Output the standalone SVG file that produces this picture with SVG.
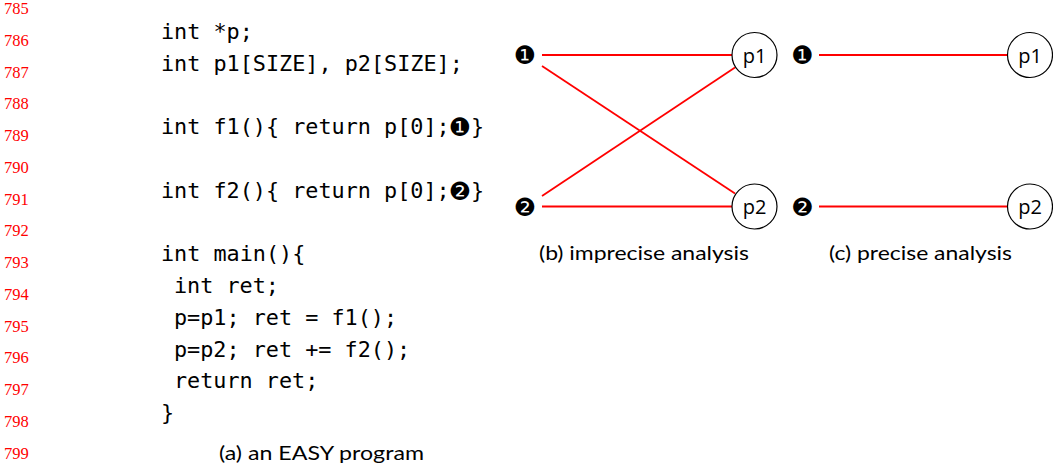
<svg xmlns="http://www.w3.org/2000/svg" width="1053" height="471" viewBox="0 0 1053 471">
<style>
.ln{font-family:"Liberation Serif",serif;font-size:16.5px;fill:#ff0000}
.code{font-family:"DejaVu Sans Mono",monospace;font-size:21.8px;fill:#000}
.cap{font-family:Lato,"Open Sans",sans-serif;font-size:20px;fill:#000}
.dot{font-family:"DejaVu Sans",sans-serif;font-size:25px;fill:#000;text-anchor:middle}
.nd{fill:#fff;stroke:#000;stroke-width:1.2}
.nt{font-family:"Open Sans",sans-serif;font-size:20px;fill:#000;text-anchor:middle}
.e{stroke:#ff0000;stroke-width:1.8;fill:none}
</style>
<rect width="1053" height="471" fill="#fff"/>
<g id="line-numbers" class="ln">
<text x="4" y="14">785</text>
<text x="4" y="45.75">786</text>
<text x="4" y="77.5">787</text>
<text x="4" y="109.25">788</text>
<text x="4" y="141">789</text>
<text x="4" y="172.75">790</text>
<text x="4" y="204.5">791</text>
<text x="4" y="236.25">792</text>
<text x="4" y="268">793</text>
<text x="4" y="299.75">794</text>
<text x="4" y="331.5">795</text>
<text x="4" y="363.25">796</text>
<text x="4" y="395">797</text>
<text x="4" y="426.75">798</text>
<text x="4" y="458.5">799</text>
</g>
<g id="code" class="code">
<text x="161" y="39">int *p;</text>
<text x="161" y="70.75">int p1[SIZE], p2[SIZE];</text>
<text x="161" y="134.25">int f1(){ return p[0];</text>
<text x="471" y="134.25">}</text>
<text x="161" y="197.75">int f2(){ return p[0];</text>
<text x="471" y="197.75">}</text>
<text x="161" y="261.25">int main(){</text>
<text x="174" y="293">int ret;</text>
<text x="174" y="324.75">p=p1; ret = f1();</text>
<text x="174" y="356.5">p=p2; ret += f2();</text>
<text x="174" y="388.25">return ret;</text>
<text x="161" y="420">}</text>
<text class="dot" x="460" y="136">❶</text>
<text class="dot" x="460" y="199.5">❷</text>
</g>
<text class="cap" x="219" y="460" textLength="205" lengthAdjust="spacingAndGlyphs">(a) an EASY program</text>
<g id="connectors">
<line class="e" x1="542" y1="55" x2="732" y2="55"/>
<line class="e" x1="542" y1="66" x2="735" y2="193.5"/>
<line class="e" x1="542" y1="196" x2="735" y2="67.5"/>
<line class="e" x1="542" y1="206.5" x2="732" y2="206.5"/>
<line class="e" x1="819" y1="55" x2="1008" y2="55"/>
<line class="e" x1="819" y1="206.5" x2="1008" y2="206.5"/>
</g>
<g id="b-s1"><text class="dot" x="525" y="64">❶</text></g>
<g id="b-s2"><text class="dot" x="525" y="215.5">❷</text></g>
<g id="b-p1"><circle class="nd" cx="754.5" cy="55" r="22.5"/><text class="nt" x="754.5" y="62.5">p1</text></g>
<g id="b-p2"><circle class="nd" cx="754.5" cy="206.5" r="22.5"/><text class="nt" x="754.5" y="214">p2</text></g>
<text class="cap" x="539" y="260" textLength="210" lengthAdjust="spacingAndGlyphs">(b) imprecise analysis</text>
<g id="c-s1"><text class="dot" x="802.5" y="64">❶</text></g>
<g id="c-s2"><text class="dot" x="802.5" y="215.5">❷</text></g>
<g id="c-p1"><circle class="nd" cx="1030" cy="55" r="22.5"/><text class="nt" x="1030" y="62.5">p1</text></g>
<g id="c-p2"><circle class="nd" cx="1030" cy="206.5" r="22.5"/><text class="nt" x="1030" y="214">p2</text></g>
<text class="cap" x="829" y="260" textLength="183" lengthAdjust="spacingAndGlyphs">(c) precise analysis</text>
</svg>
